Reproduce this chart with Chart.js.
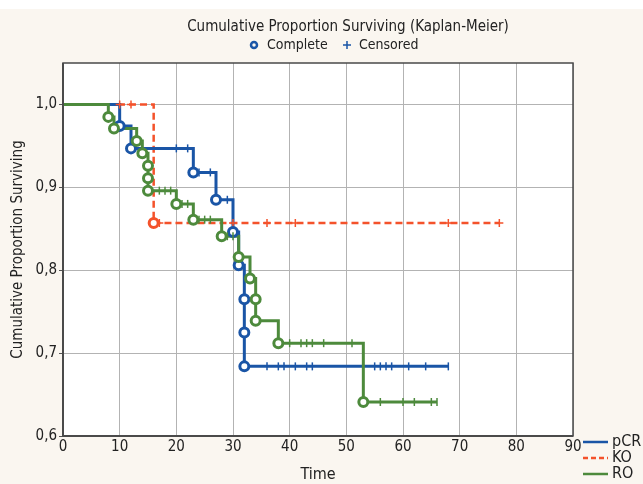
<!DOCTYPE html>
<html>
<head>
<meta charset="utf-8">
<script src="https://cdn.jsdelivr.net/npm/chart.js@4/dist/chart.umd.min.js"></script>
<style>
html, body { margin: 0; padding: 0; background: #faf6f0; }
canvas { display: block; }
</style>
</head>
<body>
<canvas id="km" width="643" height="484"></canvas>
<script>
// --- data ---
const groupNames = ['pCR', 'KO', 'RO'];

const pcrEventTimes = [10, 12, 23, 27, 30, 31, 32, 32, 32];
const pcrEventSurv  = [0.974, 0.947, 0.918, 0.885, 0.846, 0.806, 0.765, 0.725, 0.684];
const pcrCensorTimes = [20, 22, 24, 26, 29, 36, 38, 39, 41, 43, 44, 55, 56, 57, 58, 61, 64, 68];
const pcrEnd = 68;

const koEventTimes = [16];
const koEventSurv  = [0.857];
const koCensorTimes = [10, 12, 17, 30, 36, 41, 68, 77];
const koEnd = 77;

const roEventTimes = [8, 9, 13, 14, 15, 15, 15, 20, 23, 28, 31, 33, 34, 34, 38, 53];
const roEventSurv  = [0.985, 0.971, 0.956, 0.941, 0.926, 0.911, 0.896, 0.880, 0.861, 0.841, 0.816, 0.790, 0.765, 0.739, 0.712, 0.641];
const roCensorTimes = [17, 18, 19, 21, 22, 24, 25, 26, 29, 30, 40, 42, 43, 44, 46, 51, 56, 60, 62, 65, 66];
const roEnd = 66;

const xTicks = [0, 10, 20, 30, 40, 50, 60, 70, 80, 90];
const yTicks = [0.6, 0.7, 0.8, 0.9, 1.0];
const yTickLabels = ['0,6', '0,7', '0,8', '0,9', '1,0'];

const blue = '#1a55a6';
const red = '#f4522b';
const green = '#4d8a3c';
const narrow = "'Liberation Sans Narrow', 'DejaVu Sans Condensed', sans-serif";

// survival value at time t (after events at t)
function survAt(times, surv, t) {
    let s = 1;
    for (let i = 0; i < times.length; i++) {
        if (times[i] <= t) s = surv[i];
    }
    return s;
}

// points for the stepped line
function curvePoints(times, surv, censors, end) {
    const pts = [{x: 0, y: 1}];
    const all = times.map((t, i) => ({x: t, y: surv[i]}))
        .concat(censors.map(t => ({x: t, y: survAt(times, surv, t)})));
    all.push({x: end, y: survAt(times, surv, end)});
    all.sort((a, b) => a.x - b.x || b.y - a.y);
    return pts.concat(all);
}

function eventPoints(times, surv) {
    return times.map((t, i) => ({x: t, y: surv[i]}));
}

function censorPoints(times, surv, censors) {
    return censors.map(t => ({x: t, y: survAt(times, surv, t)}));
}

const chartBackground = {
    id: 'chartBackground',
    beforeDraw(chart) {
        const ctx = chart.ctx;
        const a = chart.chartArea;
        ctx.save();
        ctx.fillStyle = '#faf6f0';
        ctx.fillRect(0, 0, chart.width, chart.height);
        ctx.fillStyle = '#ffffff';
        ctx.fillRect(0, 0, chart.width, 9);
        ctx.fillRect(a.left, a.top, a.right - a.left, a.bottom - a.top);
        ctx.restore();
    },
    afterDraw(chart) {
        const ctx = chart.ctx;
        const a = chart.chartArea;
        ctx.save();
        // frame
        ctx.strokeStyle = '#4a4a4a';
        ctx.lineWidth = 1.5;
        ctx.strokeRect(a.left, a.top, a.right - a.left, a.bottom - a.top);
        ctx.lineWidth = 2;
        ctx.beginPath();
        ctx.moveTo(a.left, a.top);
        ctx.lineTo(a.left, a.bottom);
        ctx.lineTo(a.right, a.bottom);
        ctx.stroke();

        // title
        ctx.fillStyle = '#222';
        ctx.textBaseline = 'middle';
        ctx.textAlign = 'center';
        ctx.font = '15px ' + narrow;
        ctx.fillText('Cumulative Proportion Surviving (Kaplan-Meier)', 348, 27);

        // marker key
        ctx.textAlign = 'left';
        ctx.font = '14px ' + narrow;
        ctx.beginPath();
        ctx.arc(254, 45, 3, 0, Math.PI * 2);
        ctx.strokeStyle = blue;
        ctx.lineWidth = 2.5;
        ctx.stroke();
        ctx.fillText('Complete', 267, 45);
        ctx.lineWidth = 1.5;
        ctx.beginPath();
        ctx.moveTo(343, 45); ctx.lineTo(351, 45);
        ctx.moveTo(347, 41); ctx.lineTo(347, 49);
        ctx.stroke();
        ctx.fillText('Censored', 359, 45);

        // group legend
        const legendY = [442, 458, 474];
        const legendColors = [blue, red, green];
        const legendDash = [[], [5, 3], []];
        ctx.font = '16px ' + narrow;
        groupNames.forEach((name, i) => {
            ctx.strokeStyle = legendColors[i];
            ctx.lineWidth = 2.5;
            ctx.setLineDash(legendDash[i]);
            ctx.beginPath();
            ctx.moveTo(583, legendY[i]);
            ctx.lineTo(608, legendY[i]);
            ctx.stroke();
            ctx.setLineDash([]);
            ctx.fillStyle = '#222';
            ctx.fillText(name, 612, legendY[i]);
        });
        ctx.restore();
    }
};

const lineDefaults = {
    showLine: true,
    stepped: true,
    pointRadius: 0,
    pointHoverRadius: 0,
    fill: false,
    borderWidth: 3
};

const eventDefaults = {
    showLine: false,
    pointStyle: 'circle',
    pointRadius: 4.5,
    pointBorderWidth: 3,
    pointBackgroundColor: '#ffffff'
};

const censorDefaults = {
    showLine: false,
    pointStyle: 'line',
    rotation: 90,
    pointRadius: 4,
    pointBorderWidth: 1.5
};

new Chart(document.getElementById('km'), {
    type: 'scatter',
    data: {
        datasets: [
            Object.assign({}, lineDefaults, {label: 'pCR', data: curvePoints(pcrEventTimes, pcrEventSurv, pcrCensorTimes, pcrEnd), borderColor: blue, order: 4}),
            Object.assign({}, lineDefaults, {label: 'KO', data: curvePoints(koEventTimes, koEventSurv, koCensorTimes, koEnd), borderColor: red, borderDash: [7, 4], borderWidth: 2.5, order: 5}),
            Object.assign({}, lineDefaults, {label: 'RO', data: curvePoints(roEventTimes, roEventSurv, roCensorTimes, roEnd), borderColor: green, order: 3}),
            Object.assign({}, eventDefaults, {data: eventPoints(pcrEventTimes, pcrEventSurv), pointBorderColor: blue, order: 1}),
            Object.assign({}, eventDefaults, {data: eventPoints(koEventTimes, koEventSurv), pointBorderColor: red, order: 2}),
            Object.assign({}, eventDefaults, {data: eventPoints(roEventTimes, roEventSurv), pointBorderColor: green, order: 0}),
            Object.assign({}, censorDefaults, {data: censorPoints(pcrEventTimes, pcrEventSurv, pcrCensorTimes), pointBorderColor: blue, order: 1}),
            Object.assign({}, censorDefaults, {data: censorPoints(koEventTimes, koEventSurv, koCensorTimes), pointStyle: 'cross', rotation: 0, pointBorderColor: red, order: 2}),
            Object.assign({}, censorDefaults, {data: censorPoints(roEventTimes, roEventSurv, roCensorTimes), pointBorderColor: green, order: 0})
        ]
    },
    options: {
        responsive: false,
        animation: false,
        devicePixelRatio: 1,
        layout: { padding: { top: 63, right: 70, left: 0, bottom: 0 } },
        plugins: {
            legend: { display: false },
            tooltip: { enabled: false }
        },
        scales: {
            x: {
                type: 'linear',
                min: 0,
                max: 90,
                afterBuildTicks(s) { s.ticks = xTicks.map(v => ({value: v})); },
                afterFit(s) { s.height = 48; },
                ticks: { color: '#222', font: { family: narrow, size: 15 }, padding: 2, maxRotation: 0 },
                grid: { color: '#b3b3b3', lineWidth: 1, drawTicks: false },
                border: { display: false },
                title: { display: true, text: 'Time', color: '#222', font: { family: narrow, size: 16 }, padding: { top: 0, bottom: 0 } }
            },
            y: {
                type: 'linear',
                min: 0.6,
                max: 1.05,
                afterBuildTicks(s) { s.ticks = yTicks.map(v => ({value: v})); },
                afterFit(s) { s.width = 63; },
                ticks: {
                    color: '#222',
                    font: { family: narrow, size: 15 },
                    padding: 2,
                    callback: (v, i) => yTickLabels[i]
                },
                grid: { color: '#b3b3b3', lineWidth: 1, tickLength: 4, tickColor: '#555' },
                border: { display: false },
                title: { display: true, text: 'Cumulative Proportion Surviving', color: '#222', font: { family: narrow, size: 15 }, padding: { top: 9, bottom: 0 } }
            }
        }
    },
    plugins: [chartBackground]
});
</script>
</body>
</html>
